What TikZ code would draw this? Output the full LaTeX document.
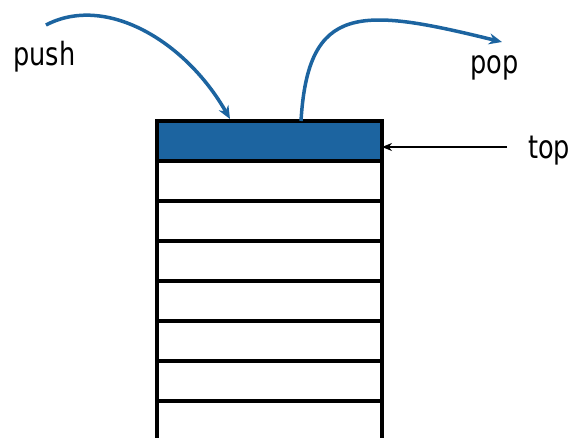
\documentclass[tikz,border=0pt]{standalone}
\usepackage{fontspec}
\setmainfont[FakeStretch=0.8]{DejaVu Sans}
\usetikzlibrary{arrows.meta}
\definecolor{stackblue}{HTML}{1C64A0}
\begin{document}
\begin{tikzpicture}[x=1pt,y=-1pt,
  cell/.style={draw=black,line width=3.5pt,minimum width=225pt,minimum height=40pt,inner sep=0pt,outer sep=0pt},
  lbl/.style={font=\fontsize{32}{32}\selectfont,anchor=base west,inner sep=0pt},
  bluearrow/.style={draw=stackblue,line width=3.5pt,-{Stealth[length=13pt,width=11pt]}},
  ptr/.style={draw=black,line width=2pt,-{Stealth[length=10pt,width=8pt]}}]
\clip (0,0) rectangle (576,437);
\fill[white] (0,0) rectangle (576,437);
\node[cell,fill=stackblue] (r1) at (269.5,141) {};
\foreach \i/\y in {2/181,3/221,4/261,5/301,6/341,7/381,8/421}
  \node[cell,fill=white] (r\i) at (269.5,\y) {};
\node[lbl] (push) at (13,65) {push};
\node[lbl] (pop) at (470,73) {pop};
\node[lbl] (top) at (528,158) {top};
\coordinate (pushstart) at (46,25);
\coordinate (pushend) at (230,119);
\coordinate (popstart) at (301,121);
\coordinate (popend) at (502,42);
\coordinate (topstart) at (507,147);
\draw[bluearrow] (pushstart) .. controls (105,-6) and (185,40) .. (pushend);
\draw[bluearrow] (popstart) .. controls (308,3) and (360,7) .. (popend);
\draw[ptr] (topstart) -- (r1.east |- topstart);
\end{tikzpicture}
\end{document}
